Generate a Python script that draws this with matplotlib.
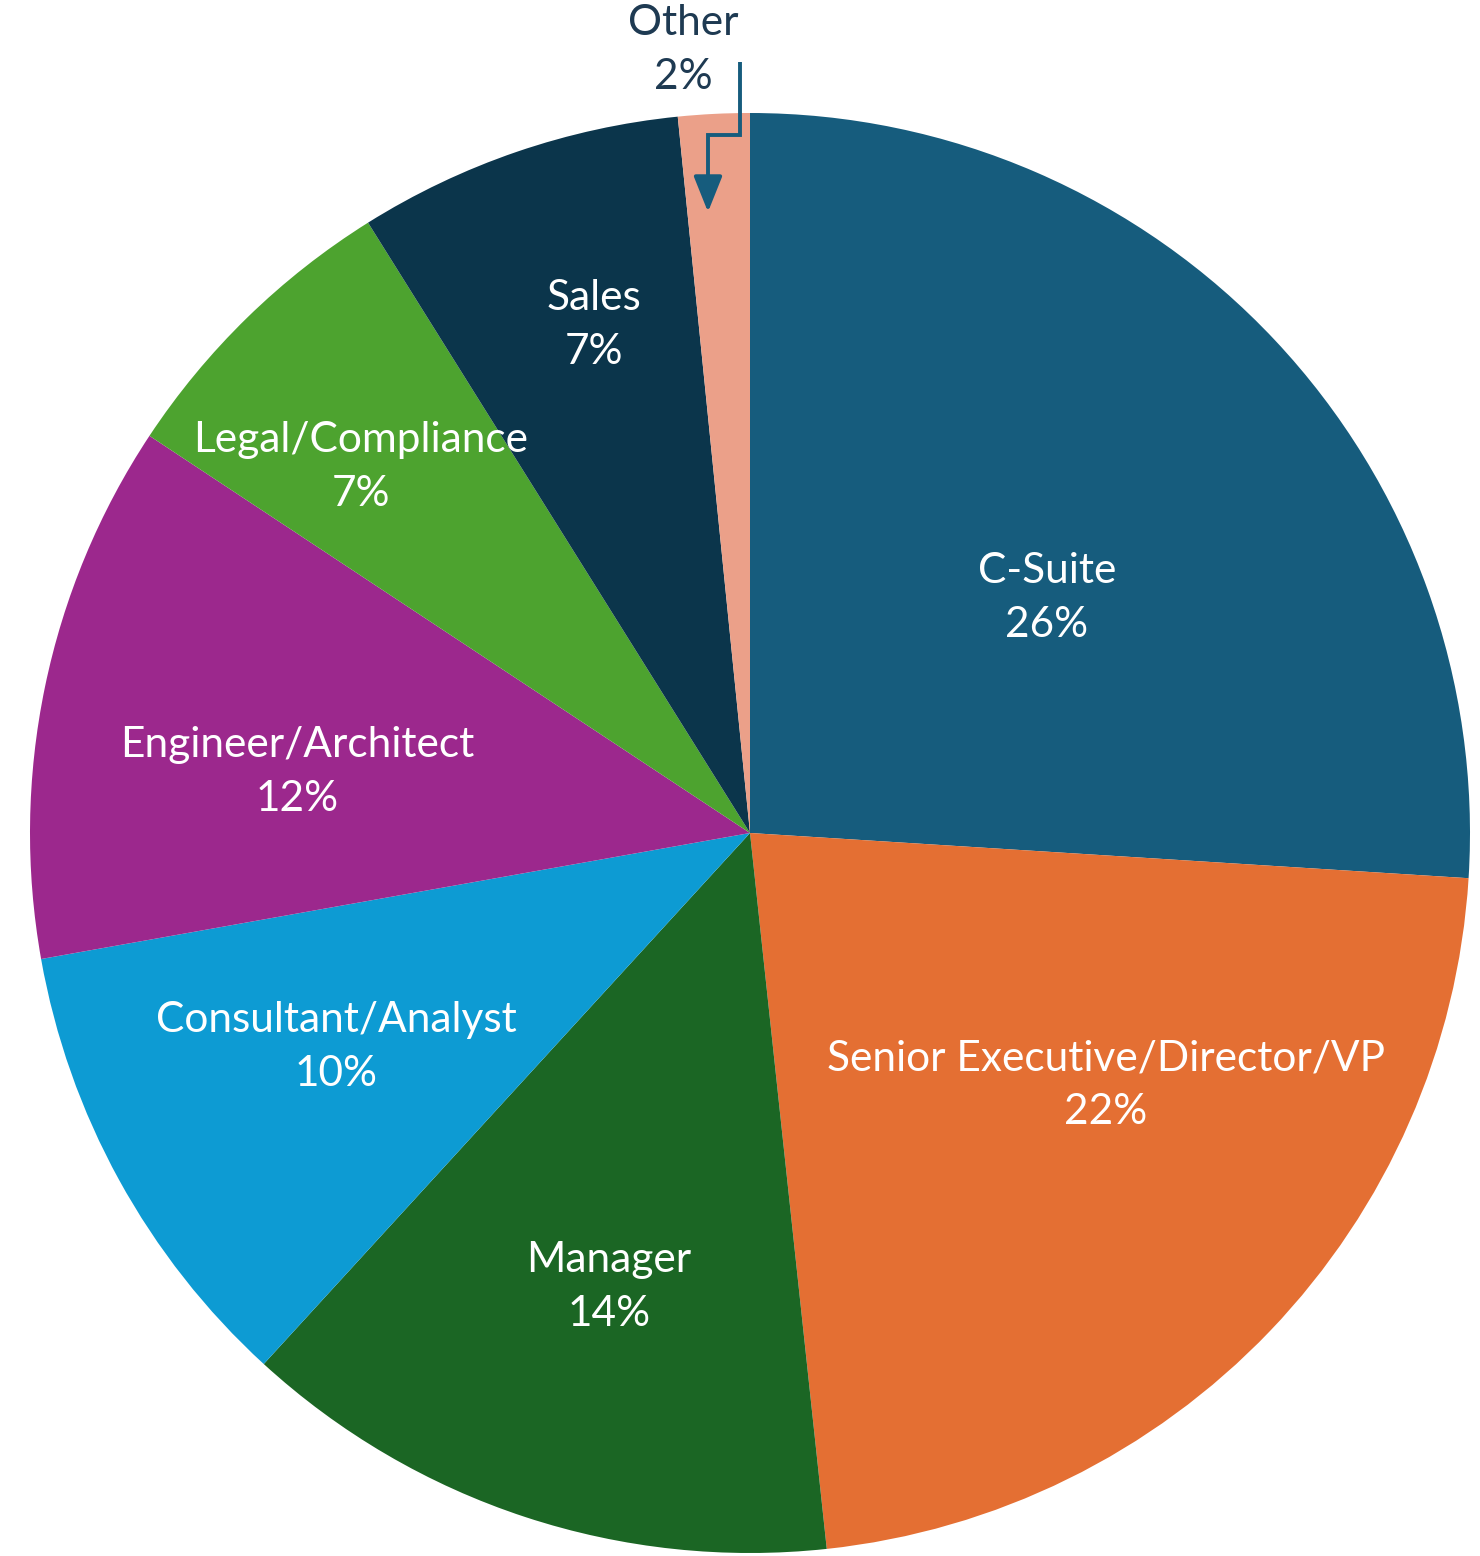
import matplotlib.pyplot as plt

# Share of respondents by job role (slice sizes)
roles = ['C-Suite', 'Senior Executive/Director/VP', 'Manager',
         'Consultant/Analyst', 'Engineer/Architect', 'Legal/Compliance',
         'Sales', 'Other']
shares = [26.0, 22.3, 13.5, 10.4, 12.1, 6.8, 7.3, 1.6]
pct_labels = ['26%', '22%', '14%', '10%', '12%', '7%', '7%', '2%']
colors = ['#165C7D', '#E46F33', '#1B6624', '#0D9BD3',
          '#9C288D', '#4DA32F', '#0B354B', '#EBA089']

W, H = 1480, 1556
fig = plt.figure(figsize=(W / 100, H / 100), dpi=100)
ax = fig.add_axes([0, 0, 1, 1])

cx, cy, r = 750, H - 833, 720
wedges, _ = ax.pie(shares, colors=colors, startangle=90, counterclock=False,
                   radius=r, center=(cx, cy), frame=True,
                   wedgeprops=dict(linewidth=0))
ax.set_xlim(0, W)
ax.set_ylim(0, H)
ax.set_aspect('equal')
ax.axis('off')

# where each label block is centred (pixels from top-left)
label_xy = [(1047, 598), (1106, 1085), (609, 1287), (336, 1047),
            (297, 772), (361, 467), (594, 325), (683, 50)]
font = ['Lato', 'DejaVu Sans']
for i, (name, pct) in enumerate(zip(roles, pct_labels)):
    x, y = label_xy[i]
    outside = i == len(roles) - 1
    ax.text(x, H - y, f'{name}\n{pct}', ha='center', va='center',
            color='#1E3A52' if outside else 'white',
            fontsize=30.5, family=font, linespacing=1.5)

# elbow arrow pointing from the "Other" label into its thin slice
arrow_col = '#165C7D'
ax.plot([740, 740, 708, 708], [H - 62, H - 135, H - 135, H - 180],
        color=arrow_col, lw=2.8, solid_capstyle='butt', solid_joinstyle='miter')
ax.annotate('', xy=(708, H - 212), xytext=(708, H - 178),
            arrowprops=dict(arrowstyle='-|>,head_length=0.55,head_width=0.22',
                            color=arrow_col, lw=2.8,
                            mutation_scale=40, shrinkA=0, shrinkB=0))

fig.savefig('out.png', dpi=100)
